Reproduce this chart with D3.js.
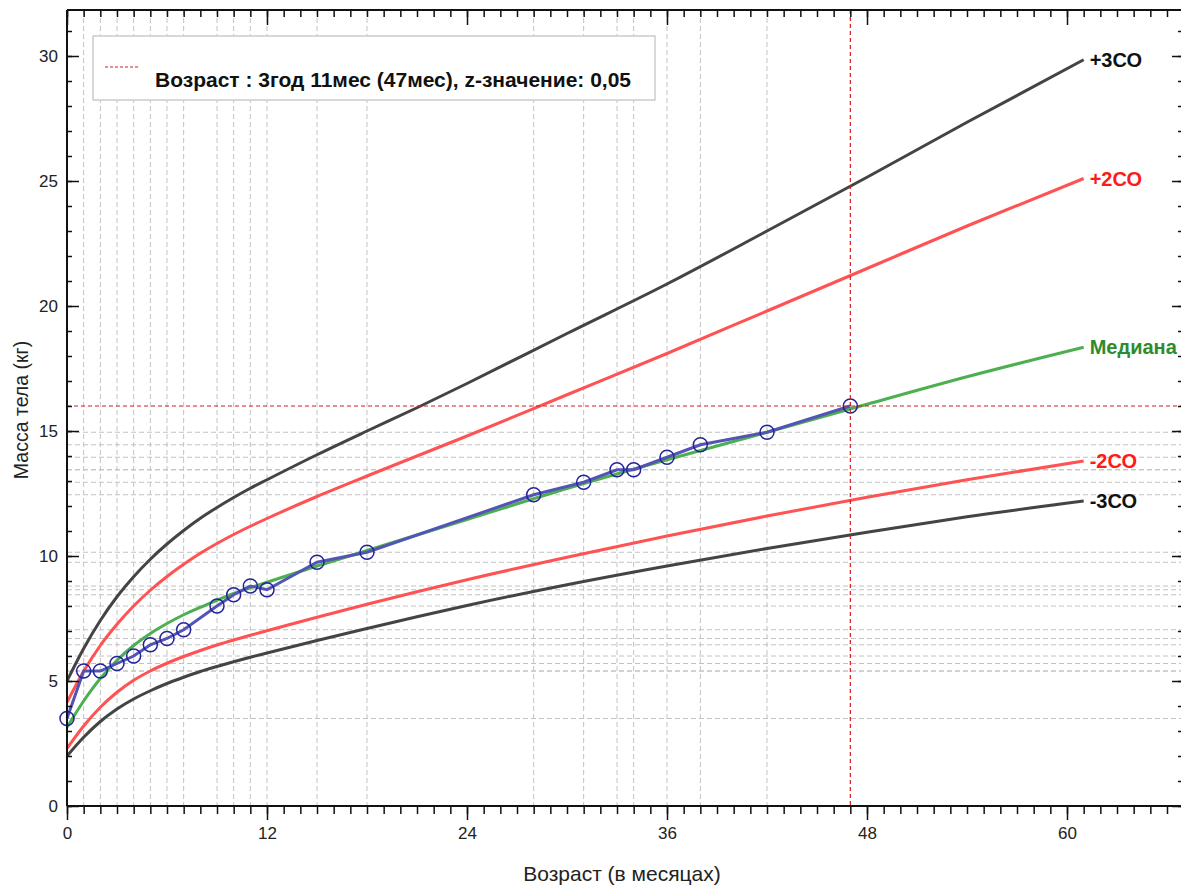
<!DOCTYPE html>
<html>
<head>
<meta charset="utf-8">
<script src="https://cdn.jsdelivr.net/npm/d3@7"></script>
<style>
  body { margin: 0; background: #fff; }
  svg { display: block; }
  text { font-family: "Liberation Sans", Arial, sans-serif; }
</style>
</head>
<body>
<svg width="1181" height="886"></svg>
<script>
// ages (months) at which the reference curves are read
const ages = [0, 1, 2, 3, 4, 5, 6, 7, 8, 9, 10, 11, 12, 15, 18, 21, 24, 30, 36, 42, 48, 54, 61];

// reference curves, kg
const sdPlus3  = [5.0, 6.3, 7.42, 8.37, 9.17, 9.87, 10.48, 11.02, 11.51, 11.94, 12.34, 12.71, 13.05, 14.05, 15.0, 15.93, 16.9, 18.9, 20.88, 23.0, 25.15, 27.35, 29.85];
const sdPlus2  = [4.15, 5.39, 6.42, 7.27, 8.0, 8.63, 9.18, 9.67, 10.11, 10.5, 10.86, 11.19, 11.5, 12.38, 13.2, 14.0, 14.8, 16.45, 18.1, 19.8, 21.5, 23.2, 25.1];
const median   = [3.15, 4.2, 5.1, 5.83, 6.42, 6.9, 7.3, 7.65, 7.95, 8.23, 8.5, 8.73, 8.95, 9.6, 10.22, 10.84, 11.46, 12.7, 13.85, 14.95, 16.07, 17.17, 18.35];
const sdMinus2 = [2.3, 3.2, 3.95, 4.55, 5.03, 5.4, 5.71, 5.98, 6.22, 6.44, 6.64, 6.83, 7.01, 7.55, 8.07, 8.57, 9.05, 9.95, 10.8, 11.6, 12.35, 13.05, 13.8];
const sdMinus3 = [2.0, 2.75, 3.38, 3.88, 4.28, 4.61, 4.9, 5.15, 5.38, 5.58, 5.77, 5.95, 6.12, 6.62, 7.1, 7.57, 8.02, 8.85, 9.6, 10.3, 10.95, 11.57, 12.2];

// child's measurements
const childAge = [0, 1, 2, 3, 4, 5, 6, 7, 9, 10, 11, 12, 15, 18, 28, 31, 33, 34, 36, 38, 42, 47];
const childWeight = [3.5, 5.4, 5.4, 5.7, 6.0, 6.45, 6.7, 7.05, 8.0, 8.45, 8.8, 8.65, 9.75, 10.15, 12.45, 12.95, 13.45, 13.45, 13.95, 14.45, 14.95, 16.0];

const xMajor = [0, 12, 24, 36, 48, 60];
const yMajor = [0, 5, 10, 15, 20, 25, 30];
const curveNames = ["+3СО", "+2СО", "Медиана", "-2СО", "-3СО"];
const legendText = "Возраст : 3год 11мес (47мес), z-значение: 0,05";
const markerAge = 47, markerWeight = 16.0;

const svg = d3.select("svg");
const L = 67, R = 1182, T = 10, B = 806;

const x = d3.scaleLinear().domain([0, 66.9]).range([L, R]);
const y = d3.scaleLinear().domain([0, 31.84]).range([B, T]);

// dashed grid at the child's measurements
const grid = svg.append("g").attr("stroke", "#c2c2c2").attr("stroke-dasharray", "5,3").attr("stroke-width", 1);
grid.selectAll(".gx").data(childAge.filter(a => a !== markerAge && a !== 0)).join("line")
  .attr("x1", d => x(d)).attr("x2", d => x(d)).attr("y1", T).attr("y2", B);
grid.selectAll(".gy").data(childWeight.filter(w => w !== markerWeight)).join("line")
  .attr("x1", L).attr("x2", R).attr("y1", d => y(d)).attr("y2", d => y(d));

// reference curves
const series = [
  { name: curveNames[0], values: sdPlus3, color: "#444", label: "#111" },
  { name: curveNames[1], values: sdPlus2, color: "#ff5252", label: "#ff1a1a" },
  { name: curveNames[2], values: median, color: "#4caf50", label: "#2e8b2e" },
  { name: curveNames[3], values: sdMinus2, color: "#ff5252", label: "#ff1a1a" },
  { name: curveNames[4], values: sdMinus3, color: "#444", label: "#111" }
];

const line = d3.line().x((d, i) => x(ages[i])).y(d => y(d)).curve(d3.curveMonotoneX);

svg.append("g").selectAll("path").data(series).join("path")
  .attr("fill", "none")
  .attr("stroke", d => d.color)
  .attr("stroke-width", 3)
  .attr("d", d => line(d.values));

svg.append("g").selectAll("text").data(series).join("text")
  .attr("x", x(ages[ages.length - 1]) + 6)
  .attr("y", d => y(d.values[d.values.length - 1]))
  .attr("dy", "0.36em")
  .attr("fill", d => d.label)
  .attr("font-size", 20)
  .attr("font-weight", "bold")
  .text(d => d.name);

// child's line and points
const childLine = d3.line().x((d, i) => x(childAge[i])).y(d => y(d));
svg.append("path")
  .attr("fill", "none")
  .attr("stroke", "#5454b6")
  .attr("stroke-width", 3)
  .attr("d", childLine(childWeight));

svg.append("g").selectAll("circle").data(childWeight).join("circle")
  .attr("cx", (d, i) => x(childAge[i]))
  .attr("cy", d => y(d))
  .attr("r", 7)
  .attr("fill", "none")
  .attr("stroke", "#23239c")
  .attr("stroke-width", 1.5);

// crosshair
const cross = svg.append("g").attr("stroke", "#d41c1c").attr("stroke-dasharray", "4,3").attr("stroke-width", 1.2);
cross.append("line").attr("x1", x(markerAge)).attr("x2", x(markerAge)).attr("y1", T).attr("y2", B);
cross.append("line").attr("x1", L).attr("x2", R).attr("y1", y(markerWeight)).attr("y2", y(markerWeight));

// axes
const xMinor = d3.range(0, 67);
const yMinor = d3.range(0, 32);

function ticks(axis, g) {
  g.call(axis);
  g.select(".domain").remove();
  g.selectAll("line").attr("stroke", "#111").attr("stroke-width", 1.5);
}

ticks(d3.axisBottom(x).tickValues(xMinor).tickSize(8).tickFormat(""), svg.append("g").attr("transform", `translate(0,${B})`));
ticks(d3.axisBottom(x).tickValues(xMajor).tickSize(14).tickFormat(""), svg.append("g").attr("transform", `translate(0,${B})`));
ticks(d3.axisBottom(x).tickValues(xMinor).tickSize(7).tickFormat(""), svg.append("g").attr("transform", `translate(0,${T})`));
ticks(d3.axisBottom(x).tickValues(xMajor).tickSize(15).tickFormat(""), svg.append("g").attr("transform", `translate(0,${T})`));
ticks(d3.axisRight(y).tickValues(yMinor).tickSize(5).tickFormat(""), svg.append("g").attr("transform", `translate(${L},0)`));
ticks(d3.axisRight(y).tickValues(yMajor).tickSize(12).tickFormat(""), svg.append("g").attr("transform", `translate(${L},0)`));
ticks(d3.axisLeft(y).tickValues(yMinor).tickSize(4).tickFormat(""), svg.append("g").attr("transform", `translate(${R},0)`));
ticks(d3.axisLeft(y).tickValues(yMajor).tickSize(10).tickFormat(""), svg.append("g").attr("transform", `translate(${R},0)`));

const xl = svg.append("g").attr("transform", `translate(0,${B})`)
  .call(d3.axisBottom(x).tickValues(xMajor).tickSize(0).tickPadding(21));
const yl = svg.append("g").attr("transform", `translate(${L},0)`)
  .call(d3.axisLeft(y).tickValues(yMajor).tickSize(0).tickPadding(9));
[xl, yl].forEach(g => {
  g.select(".domain").remove();
  g.selectAll("text").attr("font-family", "Liberation Sans, Arial, sans-serif").attr("font-size", 17).attr("fill", "#222");
});

const frame = svg.append("g").attr("stroke", "#111").attr("stroke-width", 2);
frame.append("line").attr("x1", L).attr("x2", L).attr("y1", T).attr("y2", B);
frame.append("line").attr("x1", L).attr("x2", R).attr("y1", B).attr("y2", B);
frame.append("line").attr("x1", L).attr("x2", R).attr("y1", T).attr("y2", T);
frame.append("line").attr("x1", R).attr("x2", R).attr("y1", T).attr("y2", B);

// axis titles
svg.append("text")
  .attr("x", 622).attr("y", 881)
  .attr("text-anchor", "middle")
  .attr("font-size", 21)
  .attr("fill", "#222")
  .text("Возраст (в месяцах)");

svg.append("text")
  .attr("transform", "translate(28,410) rotate(-90)")
  .attr("text-anchor", "middle")
  .attr("font-size", 19.5)
  .attr("fill", "#222")
  .text("Масса тела (кг)");

// legend
const lg = svg.append("g");
lg.append("rect")
  .attr("x", 93).attr("y", 36).attr("width", 562).attr("height", 64)
  .attr("fill", "#fff").attr("stroke", "#ccc").attr("stroke-width", 1.5);
lg.append("line")
  .attr("x1", 105).attr("x2", 140).attr("y1", 67).attr("y2", 67)
  .attr("stroke", "#d41c1c").attr("stroke-dasharray", "3,2");
lg.append("text")
  .attr("x", 155).attr("y", 87)
  .attr("font-size", 21)
  .attr("font-weight", "bold")
  .attr("fill", "#111")
  .text(legendText);
</script>
</body>
</html>
